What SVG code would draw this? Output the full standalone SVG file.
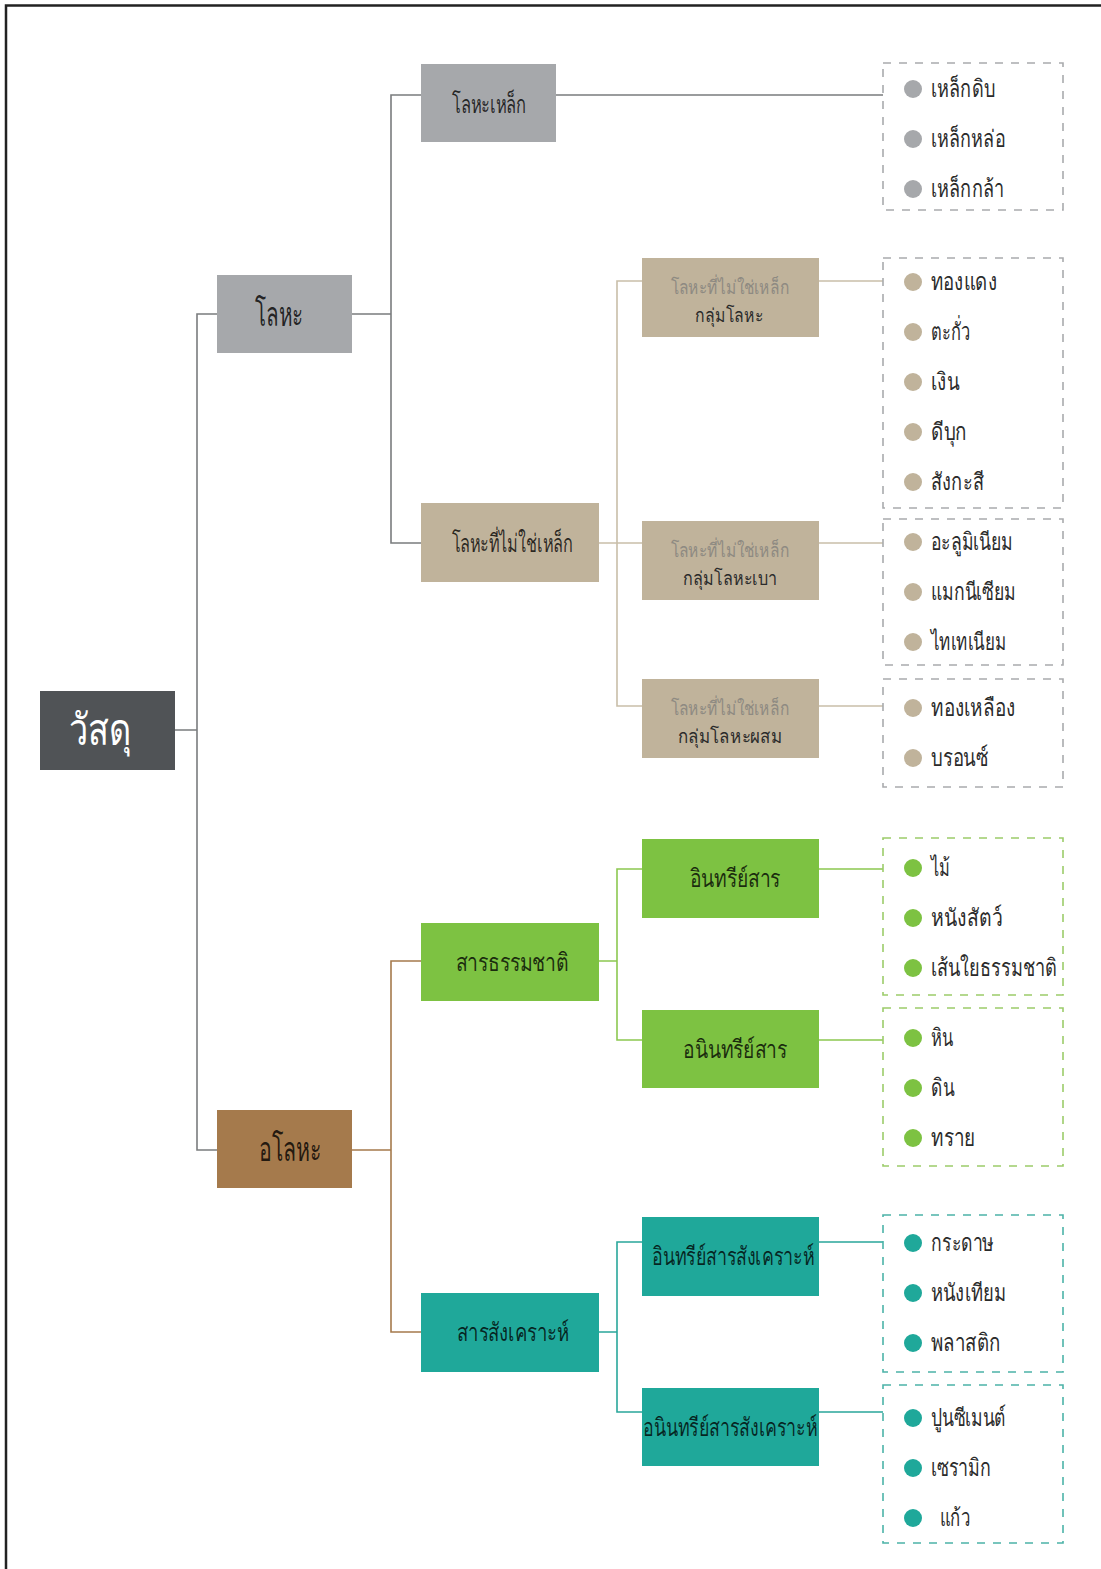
<svg xmlns="http://www.w3.org/2000/svg" width="1101" height="1569" viewBox="0 0 1101 1569">
<style>
text{font-family:"Noto Sans","DejaVu Sans",sans-serif;}
.c{stroke-width:1.6;fill:none}
.gr{stroke:#7a7c7e}
.be{stroke:#c9bea9}
.br{stroke:#a57a4c}
.gn{stroke:#8cc850}
.tl{stroke:#2aa79b}
.dash{fill:none;stroke-width:1.6;stroke-dasharray:8,8}
.t2{font-size:25px;fill:#000;fill-opacity:.78;text-anchor:middle}
.t1{font-size:34px;fill:#000;fill-opacity:.8;text-anchor:middle}
.t3a{font-size:19px;fill:#8e8a82;text-anchor:middle}
.t3b{font-size:19px;fill:#2b2b2b;text-anchor:middle}
.it{font-size:24px;fill:#2b2b2b}
</style>
<rect width="1101" height="1569" fill="#fff"/>
<path d="M6 1569 V5.5 H1101" fill="none" stroke="#222" stroke-width="2.5"/>
<g id="connectors">
<path class="c gr" d="M175 730 H197 M217 314 H197 V1150 H217"/>
<path class="c gr" d="M352 314 H391 M421 95 H391 V543 H421 M556 95 H883"/>
<path class="c be" d="M599 543 H642 M642 281 H617 V706 H642 M819 281 H883 M819 543 H883 M819 706 H883"/>
<path class="c br" d="M352 1150 H391 M421 961 H391 V1332 H421"/>
<path class="c gn" d="M599 961 H617 M642 869 H617 V1040 H642 M819 869 H883 M819 1040 H883"/>
<path class="c tl" d="M599 1332 H617 M642 1242 H617 V1412 H642 M819 1242 H883 M819 1412 H883"/>
</g>
<g id="n-wasadu"><rect x="40" y="691" width="135" height="79" fill="#505356"/><text x="100" y="745" font-size="44" fill="#fff" text-anchor="middle" textLength="63" lengthAdjust="spacingAndGlyphs">วัสดุ</text></g>
<g id="n-loha"><rect x="217" y="275" width="135" height="78" fill="#a6a8ab"/><text class="t1" x="279" y="326" textLength="48" lengthAdjust="spacingAndGlyphs">โลหะ</text></g>
<g id="n-aloha"><rect x="217" y="1110" width="135" height="78" fill="#a57a4c"/><text class="t1" x="290" y="1161" textLength="62" lengthAdjust="spacingAndGlyphs">อโลหะ</text></g>
<g id="n-lohalek"><rect x="421" y="64" width="135" height="78" fill="#a6a8ab"/><text class="t2" x="489" y="113" textLength="74" lengthAdjust="spacingAndGlyphs">โลหะเหล็ก</text></g>
<g id="n-nonferrous"><rect x="421" y="503" width="178" height="79" fill="#c0b39b"/><text class="t2" x="512" y="552" textLength="121" lengthAdjust="spacingAndGlyphs">โลหะที่ไม่ใช่เหล็ก</text></g>
<g id="n-nf-metal"><rect x="642" y="258" width="177" height="79" fill="#c0b39b"/><text class="t3a" x="730" y="294" textLength="119" lengthAdjust="spacingAndGlyphs">โลหะที่ไม่ใช่เหล็ก</text><text class="t3b" x="729" y="322" textLength="68" lengthAdjust="spacingAndGlyphs">กลุ่มโลหะ</text></g>
<g id="n-nf-light"><rect x="642" y="521" width="177" height="79" fill="#c0b39b"/><text class="t3a" x="730" y="557" textLength="119" lengthAdjust="spacingAndGlyphs">โลหะที่ไม่ใช่เหล็ก</text><text class="t3b" x="730" y="585" textLength="94" lengthAdjust="spacingAndGlyphs">กลุ่มโลหะเบา</text></g>
<g id="n-nf-alloy"><rect x="642" y="679" width="177" height="79" fill="#c0b39b"/><text class="t3a" x="730" y="715" textLength="119" lengthAdjust="spacingAndGlyphs">โลหะที่ไม่ใช่เหล็ก</text><text class="t3b" x="730" y="743" textLength="105" lengthAdjust="spacingAndGlyphs">กลุ่มโลหะผสม</text></g>
<g id="n-natural"><rect x="421" y="923" width="178" height="78" fill="#7dc242"/><text class="t2" x="512" y="971" textLength="113" lengthAdjust="spacingAndGlyphs">สารธรรมชาติ</text></g>
<g id="n-synthetic"><rect x="421" y="1293" width="178" height="79" fill="#1fa89a"/><text class="t2" x="513" y="1341" textLength="112" lengthAdjust="spacingAndGlyphs">สารสังเคราะห์</text></g>
<g id="n-organic"><rect x="642" y="839" width="177" height="79" fill="#7dc242"/><text class="t2" x="735" y="887" textLength="91" lengthAdjust="spacingAndGlyphs">อินทรีย์สาร</text></g>
<g id="n-inorganic"><rect x="642" y="1010" width="177" height="78" fill="#7dc242"/><text class="t2" x="735" y="1058" textLength="104" lengthAdjust="spacingAndGlyphs">อนินทรีย์สาร</text></g>
<g id="n-syn-organic"><rect x="642" y="1217" width="177" height="79" fill="#1fa89a"/><text class="t2" x="733" y="1265" textLength="162" lengthAdjust="spacingAndGlyphs">อินทรีย์สารสังเคราะห์</text></g>
<g id="n-syn-inorganic"><rect x="642" y="1388" width="177" height="78" fill="#1fa89a"/><text class="t2" x="730" y="1436" textLength="174" lengthAdjust="spacingAndGlyphs">อนินทรีย์สารสังเคราะห์</text></g>
<g id="list-iron">
<rect class="dash" x="883" y="63" width="180" height="147" stroke="#a9abad"/>
<circle cx="913" cy="89" r="9" fill="#a6a8ab"/><text class="it" x="931" y="97" textLength="64" lengthAdjust="spacingAndGlyphs">เหล็กดิบ</text>
<circle cx="913" cy="139" r="9" fill="#a6a8ab"/><text class="it" x="931" y="147" textLength="74" lengthAdjust="spacingAndGlyphs">เหล็กหล่อ</text>
<circle cx="913" cy="189" r="9" fill="#a6a8ab"/><text class="it" x="931" y="197" textLength="73" lengthAdjust="spacingAndGlyphs">เหล็กกล้า</text>
</g>
<g id="list-metal">
<rect class="dash" x="883" y="258" width="180" height="250" stroke="#a9abad"/>
<circle cx="913" cy="282" r="9" fill="#c0b39b"/><text class="it" x="931" y="290" textLength="66" lengthAdjust="spacingAndGlyphs">ทองแดง</text>
<circle cx="913" cy="332" r="9" fill="#c0b39b"/><text class="it" x="931" y="340" textLength="39" lengthAdjust="spacingAndGlyphs">ตะกั่ว</text>
<circle cx="913" cy="382" r="9" fill="#c0b39b"/><text class="it" x="931" y="390" textLength="28" lengthAdjust="spacingAndGlyphs">เงิน</text>
<circle cx="913" cy="432" r="9" fill="#c0b39b"/><text class="it" x="931" y="440" textLength="36" lengthAdjust="spacingAndGlyphs">ดีบุก</text>
<circle cx="913" cy="482" r="9" fill="#c0b39b"/><text class="it" x="931" y="490" textLength="53" lengthAdjust="spacingAndGlyphs">สังกะสี</text>
</g>
<g id="list-light">
<rect class="dash" x="883" y="519" width="180" height="146" stroke="#a9abad"/>
<circle cx="913" cy="542" r="9" fill="#c0b39b"/><text class="it" x="931" y="550" textLength="82" lengthAdjust="spacingAndGlyphs">อะลูมิเนียม</text>
<circle cx="913" cy="592" r="9" fill="#c0b39b"/><text class="it" x="931" y="600" textLength="85" lengthAdjust="spacingAndGlyphs">แมกนีเซียม</text>
<circle cx="913" cy="642" r="9" fill="#c0b39b"/><text class="it" x="931" y="650" textLength="75" lengthAdjust="spacingAndGlyphs">ไทเทเนียม</text>
</g>
<g id="list-alloy">
<rect class="dash" x="883" y="679" width="180" height="108" stroke="#a9abad"/>
<circle cx="913" cy="708" r="9" fill="#c0b39b"/><text class="it" x="931" y="716" textLength="84" lengthAdjust="spacingAndGlyphs">ทองเหลือง</text>
<circle cx="913" cy="758" r="9" fill="#c0b39b"/><text class="it" x="931" y="766" textLength="57" lengthAdjust="spacingAndGlyphs">บรอนซ์</text>
</g>
<g id="list-organic">
<rect class="dash" x="883" y="838" width="180" height="157" stroke="#9ccc6a"/>
<circle cx="913" cy="868" r="9" fill="#7dc242"/><text class="it" x="931" y="876" textLength="19" lengthAdjust="spacingAndGlyphs">ไม้</text>
<circle cx="913" cy="918" r="9" fill="#7dc242"/><text class="it" x="931" y="926" textLength="71" lengthAdjust="spacingAndGlyphs">หนังสัตว์</text>
<circle cx="913" cy="968" r="9" fill="#7dc242"/><text class="it" x="931" y="976" textLength="126" lengthAdjust="spacingAndGlyphs">เส้นใยธรรมชาติ</text>
</g>
<g id="list-inorganic">
<rect class="dash" x="883" y="1008" width="180" height="158" stroke="#9ccc6a"/>
<circle cx="913" cy="1038" r="9" fill="#7dc242"/><text class="it" x="931" y="1046" textLength="22" lengthAdjust="spacingAndGlyphs">หิน</text>
<circle cx="913" cy="1088" r="9" fill="#7dc242"/><text class="it" x="931" y="1096" textLength="23" lengthAdjust="spacingAndGlyphs">ดิน</text>
<circle cx="913" cy="1138" r="9" fill="#7dc242"/><text class="it" x="931" y="1146" textLength="44" lengthAdjust="spacingAndGlyphs">ทราย</text>
</g>
<g id="list-syn-organic">
<rect class="dash" x="883" y="1215" width="180" height="157" stroke="#4cb3a8"/>
<circle cx="913" cy="1243" r="9" fill="#1fa89a"/><text class="it" x="931" y="1251" textLength="63" lengthAdjust="spacingAndGlyphs">กระดาษ</text>
<circle cx="913" cy="1293" r="9" fill="#1fa89a"/><text class="it" x="931" y="1301" textLength="75" lengthAdjust="spacingAndGlyphs">หนังเทียม</text>
<circle cx="913" cy="1343" r="9" fill="#1fa89a"/><text class="it" x="931" y="1351" textLength="70" lengthAdjust="spacingAndGlyphs">พลาสติก</text>
</g>
<g id="list-syn-inorganic">
<rect class="dash" x="883" y="1385" width="180" height="158" stroke="#4cb3a8"/>
<circle cx="913" cy="1418" r="9" fill="#1fa89a"/><text class="it" x="931" y="1426" textLength="75" lengthAdjust="spacingAndGlyphs">ปูนซีเมนต์</text>
<circle cx="913" cy="1468" r="9" fill="#1fa89a"/><text class="it" x="931" y="1476" textLength="60" lengthAdjust="spacingAndGlyphs">เซรามิก</text>
<circle cx="913" cy="1518" r="9" fill="#1fa89a"/><text class="it" x="940" y="1526" textLength="30" lengthAdjust="spacingAndGlyphs">แก้ว</text>
</g>
</svg>
